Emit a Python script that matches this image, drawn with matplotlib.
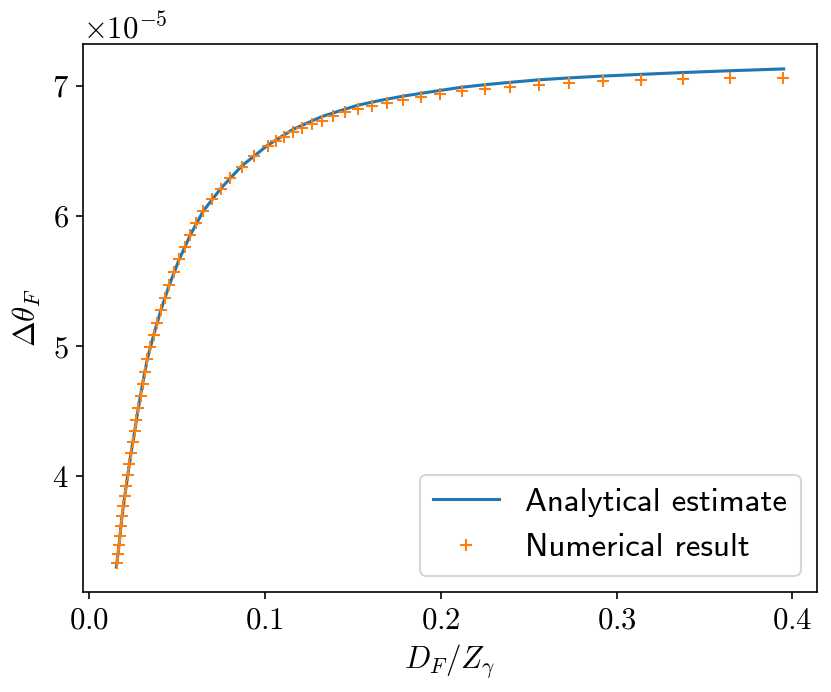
import numpy as np
import matplotlib.pyplot as plt

# estilo tipo LaTeX (Computer Modern)
plt.rcParams.update({
    'font.family': 'serif',
    'font.serif': ['cmr10'],
    'mathtext.fontset': 'cm',
    'axes.formatter.use_mathtext': True,
    'axes.unicode_minus': False,
    'font.size': 15,
})

# Curva analítica, y en unidades de 1e-5
x_analytic = [0.0155, 0.0170, 0.0187, 0.0203, 0.0220, 0.0238, 0.0259, 0.0280,
              0.0304, 0.0331, 0.0367, 0.0409, 0.0456, 0.0512, 0.0576, 0.0650,
              0.0751, 0.0868, 0.1016, 0.1158, 0.1324, 0.1528, 0.1660, 0.1787,
              0.1998, 0.2119, 0.2253, 0.2395, 0.2556, 0.2730, 0.2921, 0.3137,
              0.3375, 0.3644, 0.3950]
y_analytic = [3.30, 3.47, 3.69, 3.85, 4.01, 4.175, 4.345, 4.525,
              4.71, 4.90, 5.085, 5.28, 5.47, 5.665, 5.855, 6.04,
              6.215, 6.385, 6.545, 6.665, 6.765, 6.852, 6.890, 6.922,
              6.966, 6.990, 7.010, 7.028, 7.047, 7.062, 7.076, 7.089,
              7.103, 7.117, 7.131]

# Resultado numérico (marcadores +)
x_numeric = [0.0159, 0.0165, 0.0170, 0.0176, 0.0182, 0.0187, 0.0195, 0.0203,
             0.0212, 0.0220, 0.0229, 0.0238, 0.0248, 0.0259, 0.0268, 0.0280,
             0.0293, 0.0304, 0.0316, 0.0331, 0.0348, 0.0367, 0.0388, 0.0409,
             0.0431, 0.0456, 0.0484, 0.0512, 0.0545, 0.0576, 0.0610, 0.0650,
             0.0701, 0.0751, 0.0804, 0.0868, 0.0938, 0.1016, 0.1060, 0.1108,
             0.1158, 0.1209, 0.1266, 0.1324, 0.1388, 0.1454, 0.1528, 0.1606,
             0.1695, 0.1787, 0.1888, 0.1998, 0.2119, 0.2253, 0.2395, 0.2556,
             0.2730, 0.2921, 0.3137, 0.3375, 0.3644, 0.3946]
y_numeric = [3.333, 3.402, 3.472, 3.541, 3.615, 3.690, 3.767, 3.846,
             3.925, 4.008, 4.090, 4.175, 4.259, 4.344, 4.433, 4.523,
             4.615, 4.708, 4.802, 4.898, 4.992, 5.085, 5.179, 5.277,
             5.372, 5.469, 5.569, 5.667, 5.758, 5.854, 5.946, 6.038,
             6.127, 6.208, 6.296, 6.378, 6.459, 6.536, 6.575, 6.608,
             6.645, 6.675, 6.706, 6.733, 6.767, 6.798, 6.821, 6.846,
             6.872, 6.892, 6.915, 6.937, 6.959, 6.977, 6.992, 7.008,
             7.023, 7.036, 7.044, 7.054, 7.059, 7.064]

escala = 1e-5

fig = plt.figure(figsize=(831 / 148, 692 / 148), dpi=148)
ax = fig.add_axes([0.0999, 0.1445, 0.8833, 0.7919])

ax.plot(x_analytic, np.array(y_analytic) * escala, color='tab:blue',
        label='Analytical estimate')
ax.plot(x_numeric, np.array(y_numeric) * escala, '+', color='tab:orange',
        label='Numerical result')

ax.set_xlabel(r'$D_F/Z_\gamma$')
ax.set_ylabel(r'$\Delta\theta_F$')

ax.legend(loc='lower right', prop={'family': 'cmss10', 'size': 16})

fig.savefig('out.png', dpi=148)
